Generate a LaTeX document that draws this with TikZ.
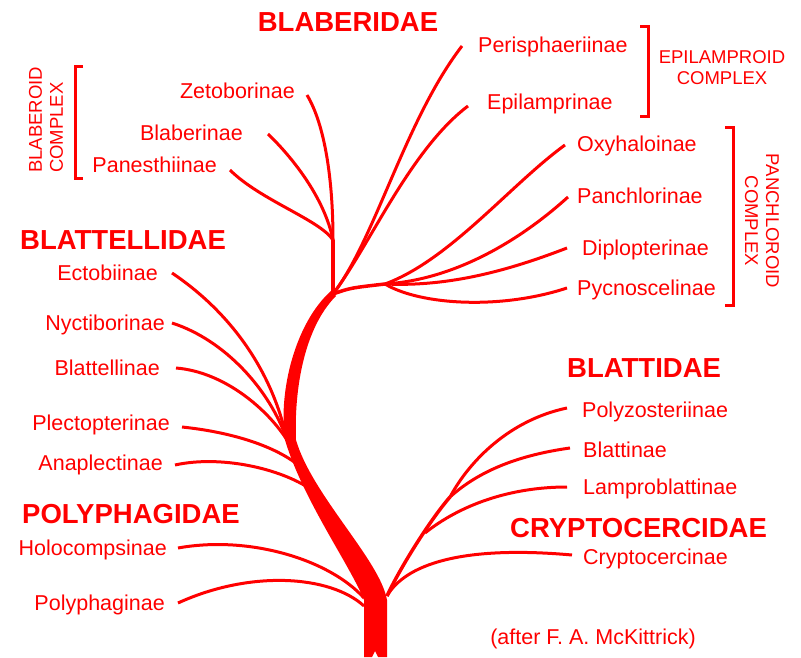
\documentclass[tikz,border=0pt]{standalone}
\usepackage{fontspec}
\setmainfont{Liberation Sans}
\usetikzlibrary{positioning}
\definecolor{TreeRed}{RGB}{255,0,0}
\tikzset{
  taxon/.style={font=\fontsize{21.5}{24}\selectfont, text=TreeRed, inner sep=0pt, text height=15pt, text depth=1pt},
  family/.style={font=\fontsize{27.5}{30}\selectfont\bfseries, text=TreeRed, inner sep=0pt},
  complex/.style={font=\fontsize{18.5}{21}\selectfont, text=TreeRed, inner sep=0pt},
  branch/.style={draw=TreeRed, line width=3pt},
  bracketline/.style={draw=TreeRed, line width=3pt},
}

\begin{document}
\begin{tikzpicture}[x=1pt,y=-1pt]
      \fill[white] (0,0) rectangle (801,658);
      \useasboundingbox (0,0) rectangle (801,658);

      % forks on the trunk
      \coordinate (fork) at (333,294);
      \coordinate (blabfork) at (333,240);
      \coordinate (pchfork) at (385,284);
      \coordinate (ectjoin) at (287,440);
      \coordinate (plejoin) at (297,464);
      \coordinate (anajoin) at (312,490);
      \coordinate (holjoin) at (364,598);
      \coordinate (poljoin) at (364,606);
      \coordinate (crybase) at (387,596);
      \coordinate (lampfork) at (425,533);
      \coordinate (blattfork) at (450,497);

      % tips
      \coordinate (zet) at (307,95);
      \coordinate (blb) at (268,134);
      \coordinate (pan) at (230,170);
      \coordinate (per) at (462,46);
      \coordinate (epi) at (468,106);
      \coordinate (oxy) at (565,145);
      \coordinate (pch) at (568,197);
      \coordinate (dip) at (567,248);
      \coordinate (pyc) at (567,288);
      \coordinate (ect) at (172,273);
      \coordinate (nyc) at (172,323);
      \coordinate (btl) at (176,368);
      \coordinate (ple) at (182,427);
      \coordinate (ana) at (175,465);
      \coordinate (hol) at (178,548);
      \coordinate (pol) at (178,603);
      \coordinate (pzs) at (567,408);
      \coordinate (bla) at (570,448);
      \coordinate (lam) at (567,487);
      \coordinate (cry) at (572,555);

      \fill[TreeRed] (364,657) -- (364,600) .. controls (350,565) and (303,500) .. (285,440)
        .. controls (278,390) and (296,322) .. (331,291) -- (336,296)
        .. controls (304,328) and (294,390) .. (296,440)
        .. controls (312,495) and (380,560) .. (387,600) -- (387,657) -- (378,657) -- (375,651) -- (372,657) -- cycle;

      \draw[branch] (zet) .. controls (325,125) and (333,180) .. (blabfork);
      \draw[branch] (blb) .. controls (295,160) and (325,200) .. (blabfork);
      \draw[branch] (pan) .. controls (260,200) and (320,220) .. (blabfork);
      \draw[branch,line width=4pt] (blabfork) -- (fork);
      \draw[branch] (fork) .. controls (375,240) and (405,120) .. (per);
      \draw[branch] (fork) .. controls (370,245) and (410,150) .. (epi);
      \draw[branch,line width=3.5pt] (fork) .. controls (350,288) .. (pchfork);
      \draw[branch] (pchfork) .. controls (450,260) and (510,185) .. (oxy);
      \draw[branch] (pchfork) .. controls (450,280) and (515,245) .. (pch);
      \draw[branch] (pchfork) .. controls (450,287) and (510,270) .. (dip);
      \draw[branch] (pchfork) .. controls (420,305) and (500,310) .. (pyc);

      \draw[branch] (ect) .. controls (230,312) and (272,370) .. (ectjoin);
      \draw[branch] (nyc) .. controls (225,340) and (270,390) .. (ectjoin);
      \draw[branch] (btl) .. controls (225,372) and (268,410) .. (ectjoin);
      \draw[branch] (ple) .. controls (230,432) and (272,445) .. (plejoin);
      \draw[branch] (ana) .. controls (220,455) and (280,468) .. (anajoin);
      \draw[branch] (hol) .. controls (250,535) and (330,560) .. (holjoin);
      \draw[branch] (pol) .. controls (250,570) and (330,575) .. (poljoin);

      \draw[branch] (crybase) .. controls (405,565) and (460,545) .. (cry);
      \draw[branch,line width=3.5pt] (crybase) .. controls (400,568) and (430,520) .. (blattfork);
      \draw[branch] (lampfork) .. controls (460,505) and (510,487) .. (lam);
      \draw[branch] (blattfork) .. controls (470,460) and (510,420) .. (pzs);
      \draw[branch] (blattfork) .. controls (480,470) and (520,455) .. (bla);

      \node[taxon,left=12pt of zet,yshift=3pt] (zetlab) {Zetoborinae};
      \node[taxon,left=25pt of blb] (blblab) {Blaberinae};
      \node[taxon,left=13pt of pan,yshift=5pt] (panlab) {Panesthiinae};
      \node[taxon,right=16pt of per] (perlab) {Perisphaeriinae};
      \node[taxon,right=19pt of epi,yshift=3pt] (epilab) {Epilamprinae};
      \node[taxon,right=12pt of oxy] (oxylab) {Oxyhaloinae};
      \node[taxon,right=9pt of pch] (pchlab) {Panchlorinae};
      \node[taxon,right=15pt of dip] (diplab) {Diplopterinae};
      \node[taxon,right=10pt of pyc] (pyclab) {Pycnoscelinae};
      \node[taxon,left=14pt of ect] (ectlab) {Ectobiinae};
      \node[taxon,left=7pt of nyc] (nyclab) {Nyctiborinae};
      \node[taxon,left=16pt of btl] (btllab) {Blattellinae};
      \node[taxon,left=12pt of ple,yshift=4pt] (plelab) {Plectopterinae};
      \node[taxon,left=12pt of ana,yshift=2pt] (analab) {Anaplectinae};
      \node[taxon,left=11pt of hol] (hollab) {Holocompsinae};
      \node[taxon,left=13pt of pol] (pollab) {Polyphaginae};
      \node[taxon,right=15pt of pzs,yshift=-2pt] (pzslab) {Polyzosteriinae};
      \node[taxon,right=13pt of bla,yshift=-2pt] (blalab) {Blattinae};
      \node[taxon,right=16pt of lam] (lamlab) {Lamproblattinae};
      \node[taxon,right=11pt of cry,yshift=-2pt] (crylab) {Cryptocercinae};

      \node[family] (blaberidae) at (348,22) {BLABERIDAE};
      \node[family,anchor=west] (blattellidae) at (20,240) {BLATTELLIDAE};
      \node[family,anchor=west] (polyphagidae) at (22,514) {POLYPHAGIDAE};
      \node[family,anchor=west] (blattidae) at (567,368) {BLATTIDAE};
      \node[family,anchor=west] (cryptocercidae) at (510,528) {CRYPTOCERCIDAE};

      \draw[bracketline] (83,67) -- (75,67) -- (75,179) -- (83,179);
      \draw[bracketline] (640,27) -- (648,27) -- (648,117) -- (640,117);
      \draw[bracketline] (725,128) -- (733,128) -- (733,305) -- (725,305);
      \node[complex,rotate=90,align=left] (blaberoid) at (46,120) {BLABEROID\\COMPLEX};
      \node[complex,align=center] (epilamproid) at (722,68) {EPILAMPROID\\COMPLEX};
      \node[complex,rotate=-90,align=center] (panchloroid) at (762,221) {PANCHLOROID\\COMPLEX};

      \node[taxon] (credit) at (593,637) {(after F.\ A.\ McKittrick)};
    \end{tikzpicture}
\end{document}
